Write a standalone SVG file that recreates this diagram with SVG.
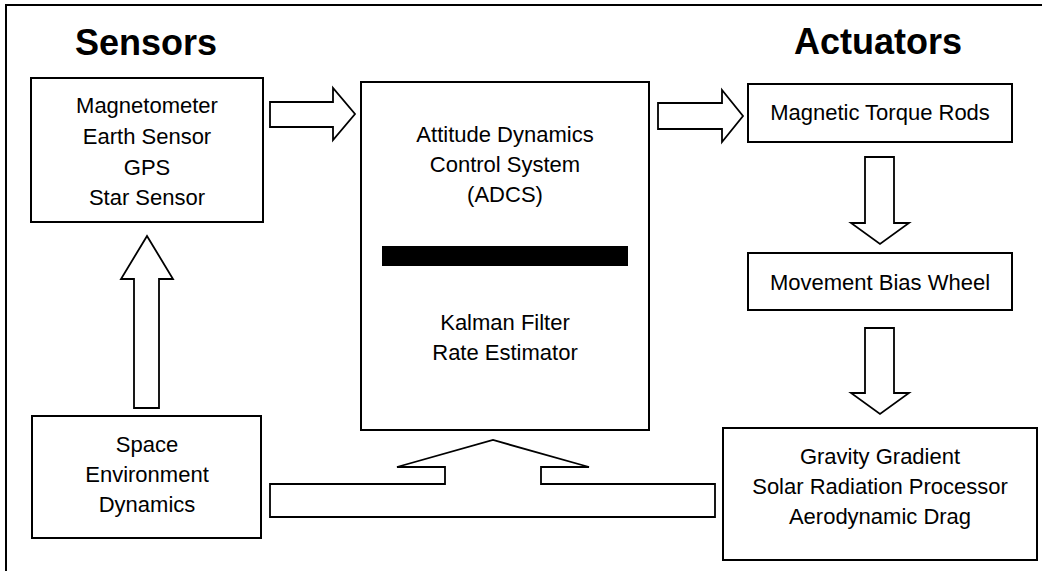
<svg xmlns="http://www.w3.org/2000/svg" width="1042" height="571" viewBox="0 0 1042 571">
<style>
.box{fill:#fff;stroke:#000;stroke-width:2}
.arr{fill:#fff;stroke:#000;stroke-width:1.8;stroke-linejoin:miter}
.t{font-family:"Liberation Sans",Arial,sans-serif;font-size:22px;fill:#000;text-anchor:middle}
.h{font-family:"Liberation Sans",Arial,sans-serif;font-size:36px;font-weight:bold;fill:#000;text-anchor:middle}
</style>
<rect width="1042" height="571" fill="#fff"/>
<path d="M6,571 V5 H1042" fill="none" stroke="#000" stroke-width="2"/>
<text class="h" x="146" y="55">Sensors</text>
<text class="h" x="878" y="54">Actuators</text>
<g id="connectors">
<path class="arr" d="M270,102 H333 V88 L355,114 L333,140 V127 H270 Z"/>
<path class="arr" d="M658,103 H722 V90 L743,116 L722,142 V129 H658 Z"/>
<path class="arr" d="M865,157 H894 V223 H909 L880,244 L851,223 H865 Z"/>
<path class="arr" d="M865,328 H894 V393 H909 L880,414 L851,393 H865 Z"/>
<path class="arr" d="M134,408 V279 H121 L147,236 L173,279 H159 V408 Z"/>
<path class="arr" d="M270,484 H445 V467 H397 L493,440 L589,467 H541 V484 H715 V517 H270 Z"/>
</g>
<g id="sensors">
<rect class="box" x="31" y="78" width="232" height="144"/>
<text class="t" x="147" y="113">Magnetometer</text>
<text class="t" x="147" y="144">Earth Sensor</text>
<text class="t" x="147" y="175">GPS</text>
<text class="t" x="147" y="205">Star Sensor</text>
</g>
<g id="adcs">
<rect class="box" x="361" y="82" width="288" height="348"/>
<text class="t" x="505" y="142">Attitude Dynamics</text>
<text class="t" x="505" y="172">Control System</text>
<text class="t" x="505" y="202">(ADCS)</text>
<rect x="382" y="246" width="246" height="20" fill="#000"/>
<text class="t" x="505" y="330">Kalman Filter</text>
<text class="t" x="505" y="360">Rate Estimator</text>
</g>
<g id="torque">
<rect class="box" x="748" y="84" width="264" height="58"/>
<text class="t" x="880" y="120">Magnetic Torque Rods</text>
</g>
<g id="wheel">
<rect class="box" x="748" y="253" width="264" height="57"/>
<text class="t" x="880" y="290">Movement Bias Wheel</text>
</g>
<g id="disturbances">
<rect class="box" x="723" y="428" width="314" height="132"/>
<text class="t" x="880" y="464">Gravity Gradient</text>
<text class="t" x="880" y="494">Solar Radiation Processor</text>
<text class="t" x="880" y="524">Aerodynamic Drag</text>
</g>
<g id="space">
<rect class="box" x="32" y="416" width="229" height="122"/>
<text class="t" x="147" y="452">Space</text>
<text class="t" x="147" y="482">Environment</text>
<text class="t" x="147" y="512">Dynamics</text>
</g>
</svg>
